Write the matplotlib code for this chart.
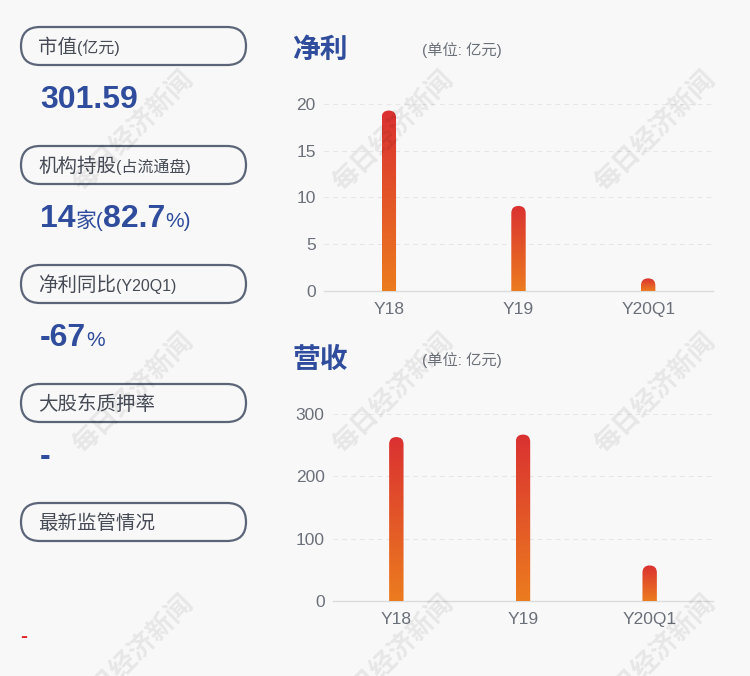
import numpy as np
import matplotlib.pyplot as plt
from matplotlib.patches import FancyBboxPatch
from matplotlib.colors import LinearSegmentedColormap

plt.rcParams['font.family'] = ['Liberation Sans', 'Noto Sans CJK SC']

W, H = 750, 676
BG = '#f8f8f8'
BLUE = '#2f4d9c'
DARK = '#464b55'
TICK = '#6b7079'
EDGE = '#5b6577'

# chart data
categories = ['Y18', 'Y19', 'Y20Q1']
profit = [19.3, 9.1, 1.35]
revenue = [263, 267, 57]
profit_ticks = [0, 5, 10, 15, 20]
revenue_ticks = [0, 100, 200, 300]

# left panel cards
card_labels = ['市值', '机构持股', '净利同比', '大股东质押率', '最新监管情况']
card_notes = ['(亿元)', '(占流通盘)', '(Y20Q1)', '', '']
card_values = [
    [('301.59', 23)],
    [('14', 23), ('家(', 15), ('82.7', 23), ('%)', 15)],
    [('-67', 23), ('%', 15)],
    [('-', 23)],
    [],
]

fig = plt.figure(figsize=(W / 100, H / 100), dpi=100, facecolor=BG)

# background axes in pixel coordinates
bg = fig.add_axes([0, 0, 1, 1], zorder=0)
bg.set_xlim(0, W)
bg.set_ylim(H, 0)
bg.axis('off')
bg.set_facecolor(BG)

renderer = fig.canvas.get_renderer()


def rich(x, y, parts, color):
    for s, size in parts:
        t = bg.text(x, y, s, fontsize=size, color=color, fontweight='bold' if size > 16 else 'normal',
                    va='baseline', ha='left')
        x += t.get_window_extent(renderer).width


card_top = 27
for i, label in enumerate(card_labels):
    top = card_top + i * 119
    box = FancyBboxPatch((21 + 19, top + 19), 225 - 38, 0,
                         boxstyle='round,pad=19',
                         facecolor='none', edgecolor=EDGE, linewidth=1.6)
    bg.add_patch(box)
    rich(38, top + 26, [(label, 14), (card_notes[i], 11.5)], DARK)
    if card_values[i]:
        rich(40, top + 81, card_values[i], BLUE)

bg.text(20, 637, '-', fontsize=15, color='#e0262b', va='center', ha='left', fontweight='bold')

# chart titles
for ty in (50, 360):
    bg.text(292, ty, '净利' if ty == 50 else '营收', fontsize=20, fontweight='bold',
            color=BLUE, va='center', ha='left', family='Noto Sans CJK SC')
    bg.text(422, ty, '(单位: 亿元)', fontsize=11, color=TICK, va='center', ha='left')

cmap = LinearSegmentedColormap.from_list('bar', ['#ec7c1f', '#da3131'])
grad = np.linspace(0, 1, 256).reshape(-1, 1)


def bar_chart(rect, values, ticks):
    left, top, right, bottom = rect
    ax = fig.add_axes([left / W, 1 - bottom / H, (right - left) / W, (bottom - top) / H], zorder=1)
    ax.patch.set_alpha(0)
    ymax = ticks[-1]
    px_x = (right - left) / len(values)
    px_y = (bottom - top) / ymax
    half = 7.2 / px_x
    aspect = px_x / px_y
    for i, v in enumerate(values):
        clip = FancyBboxPatch((i - half, -half * aspect), 2 * half, v + half * aspect,
                              boxstyle='round,pad=0,rounding_size=%f' % half,
                              mutation_aspect=aspect, transform=ax.transData,
                              facecolor='none', edgecolor='none')
        ax.add_patch(clip)
        im = ax.imshow(grad, extent=(i - half, i + half, 0, v), origin='lower',
                       cmap=cmap, aspect='auto', zorder=3)
        im.set_clip_path(clip)
    ax.set_xlim(-0.5, len(values) - 0.5)
    ax.set_ylim(0, ymax)
    ax.set_xticks(range(len(values)))
    ax.set_xticklabels(categories)
    ax.set_yticks(ticks)
    for t in ticks[1:]:
        ax.axhline(t, color='#e6e6e6', linewidth=0.8, linestyle=(0, (4, 4)), zorder=1)
    for s in ('top', 'right', 'left'):
        ax.spines[s].set_visible(False)
    ax.spines['bottom'].set_color('#dcdcdc')
    ax.spines['bottom'].set_linewidth(1)
    ax.tick_params(length=0, labelsize=12.5, colors=TICK)
    ax.tick_params(axis='y', pad=6)
    ax.tick_params(axis='x', pad=8)
    return ax


bar_chart((324, 104, 713, 291), profit, profit_ticks)
bar_chart((333, 414, 713, 601), revenue, revenue_ticks)

# watermark overlay
ov = fig.add_axes([0, 0, 1, 1], zorder=5)
ov.set_xlim(0, W)
ov.set_ylim(H, 0)
ov.axis('off')
ov.patch.set_alpha(0)
for wx in (133, 393, 655):
    for wy in (131, 393, 655):
        ov.text(wx, wy, '每日经济新闻', fontsize=19, fontweight='bold', color='#000000', alpha=0.07,
                rotation=45, ha='center', va='center', family='Noto Sans CJK SC')

fig.savefig('out.png', dpi=100, facecolor=BG)
